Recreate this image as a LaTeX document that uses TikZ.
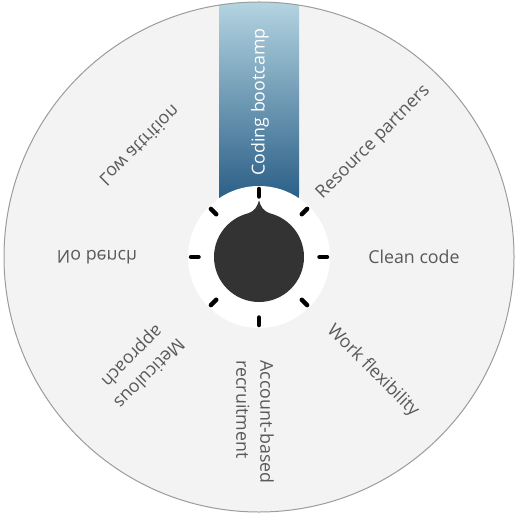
\documentclass[tikz,border=0pt]{standalone}
\usepackage{fontspec}
\setmainfont{Open Sans}
\usetikzlibrary{calc}
\definecolor{ringfill}{HTML}{F3F3F3}
\definecolor{ringline}{HTML}{9C9C9C}
\definecolor{labelgray}{HTML}{595959}
\definecolor{bartop}{HTML}{B3D4E1}
\definecolor{barbot}{HTML}{2E6289}
\definecolor{knobc}{HTML}{333333}
\tikzset{
  lbl/.style={text=labelgray, font=\fontsize{17.8}{24}\selectfont, inner sep=0pt, align=center},
  tick/.style={line width=4.5pt, line cap=round, black}
}
\begin{document}
\begin{tikzpicture}[x=1pt,y=1pt]
\useasboundingbox (0,0) rectangle (518,514);
\coordinate (C) at (259,257);
% outer disc
\fill[ringfill] (C) circle (255);
\begin{scope}
  \clip (C) circle (255);
  \shade[top color=bartop, bottom color=barbot] (219,512) rectangle (299,320);
  \fill[barbot] (219,321) rectangle (299,250);
\end{scope}
\draw[ringline, line width=1pt] (C) circle (255);
% dial
\fill[white] (C) circle (71);
\foreach \a in {0,45,...,315}{
  \draw[tick] ($(C)+(\a:60.5)$) -- ($(C)+(\a:68)$);
}
\fill[knobc] (C) circle (45);
\fill[knobc] ($(C)+(0,56.5)$) .. controls ($(C)+(2,50)$) and ($(C)+(4,46)$) .. ($(C)+(75:45)$) -- ($(C)+(105:45)$) .. controls ($(C)+(-4,46)$) and ($(C)+(-2,50)$) .. ($(C)+(0,56.5)$);
% labels
\node[lbl, text=white, rotate=90] (coding) at (260,412) {Coding bootcamp};
\node[lbl, rotate=45] (resource) at ($(C)+(45:162)$) {Resource partners};
\node[lbl, rotate=0] (clean) at ($(C)+(0:155)$) {Clean code};
\node[lbl, rotate=-45] (work) at ($(C)+(-45:161)$) {Work flexibility};
\node[lbl, rotate=270, align=left] (account) at ($(C)+(-4,-165)$) {Account-based\\recruitment};
\node[lbl, rotate=225] (meticulous) at ($(C)+(222:160)$) {Meticulous\\approach};
\node[lbl, yscale=-1] (bench) at ($(C)+(180:162)$) {No bench};
\node[lbl, rotate=45, yscale=-1] (attrition) at ($(C)+(137:163)$) {Low attrition};
\end{tikzpicture}
\end{document}
